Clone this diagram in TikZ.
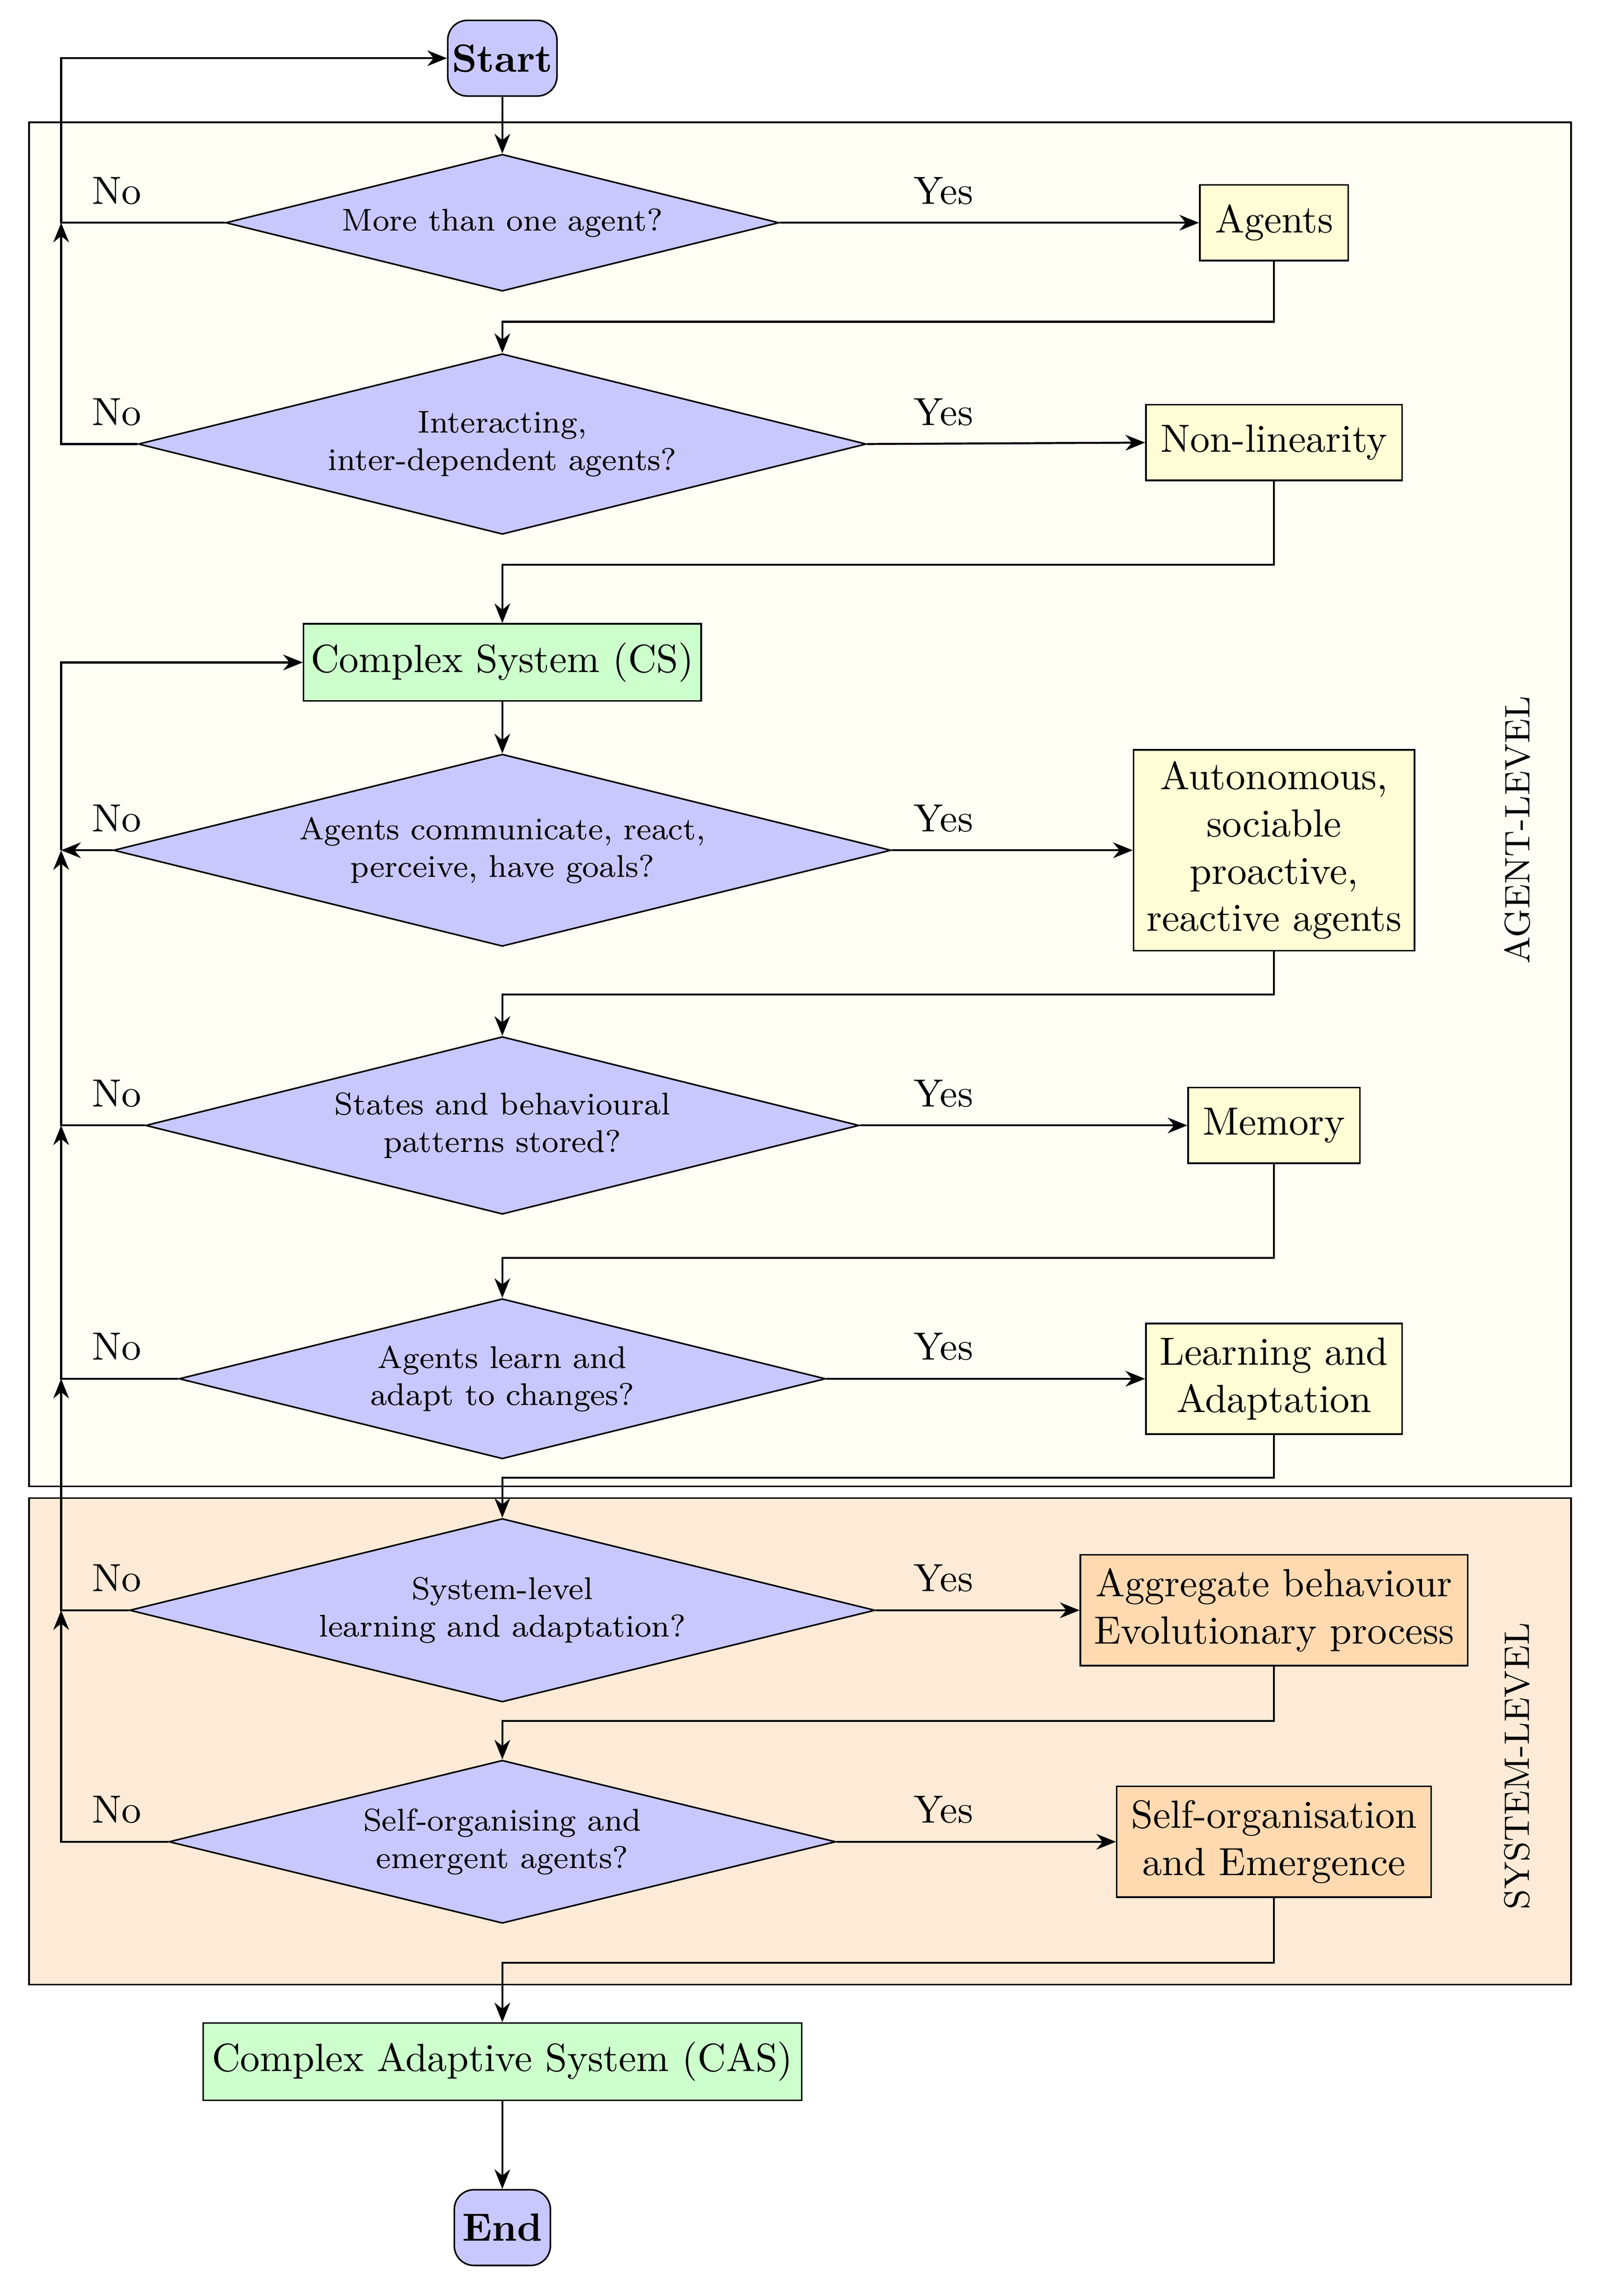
\documentclass[tikz,border=0pt]{standalone}
\usetikzlibrary{shapes.geometric,arrows.meta}
\definecolor{dia}{HTML}{C8C8FF}
\definecolor{yel}{HTML}{FFFDD5}
\definecolor{grn}{HTML}{CCFFCC}
\definecolor{org}{HTML}{FFD9B0}
\definecolor{agbg}{HTML}{FFFEF5}
\definecolor{sysbg}{HTML}{FDEBD7}
\begin{document}
\begin{tikzpicture}[x=0.013cm,y=-0.013cm,
  arr/.style={-{Stealth[length=5pt,width=4pt]},line width=0.5pt},
  dmd/.style 2 args={diamond,draw,fill=dia,inner sep=0pt,align=center,font=\footnotesize,aspect=4,minimum width={2*#1*0.013cm},minimum height={2*#2*0.013cm}},
  bx/.style 2 args={rectangle,draw,align=center,inner sep=0pt,minimum width={#1*0.013cm},minimum height={#2*0.013cm}},
  term/.style={rectangle,rounded corners=5pt,draw,fill=dia,font=\bfseries,inner sep=0pt,minimum width={#1*0.013cm},minimum height={52*0.013cm}},
  lab/.style={font=\normalsize}]
\useasboundingbox (0,0) rectangle (1100,1577);
\draw[fill=agbg] (20,84) rectangle (1079,1021);
\draw[fill=sysbg] (20,1029) rectangle (1079,1363);
\node[rotate=90,font=\small] (al) at (1042,570) {AGENT-LEVEL};
\node[rotate=90,font=\small] (sl) at (1042,1213) {SYSTEM-LEVEL};

\node[term=75] (start) at (345,40) {Start};
\node[dmd={190}{47}] (d1) at (345,153) {More than one agent?};
\node[bx={102}{52},fill=yel] (b1) at (875,153) {Agents};
\node[dmd={250}{62}] (d2) at (345,305) {Interacting,\\inter-dependent agents?};
\node[bx={176}{52},fill=yel] (b2) at (875,304) {Non-linearity};
\node[bx={273}{53},fill=grn] (cs) at (345,455) {Complex System (CS)};
\node[dmd={267}{66}] (d3) at (345,584) {Agents communicate, react,\\perceive, have goals?};
\node[bx={193}{138},fill=yel] (b3) at (875,584) {Autonomous,\\sociable\\proactive,\\reactive agents};
\node[dmd={245}{61}] (d4) at (345,773) {States and behavioural\\patterns stored?};
\node[bx={118}{52},fill=yel] (b4) at (875,773) {Memory};
\node[dmd={222}{55}] (d5) at (345,947) {Agents learn and\\adapt to changes?};
\node[bx={176}{76},fill=yel] (b5) at (875,947) {Learning and\\Adaptation};
\node[dmd={256}{63}] (d6) at (345,1106) {System-level\\learning and adaptation?};
\node[bx={266}{76},fill=org] (b6) at (875,1106) {Aggregate behaviour\\Evolutionary process};
\node[dmd={229}{56}] (d7) at (345,1265) {Self-organising and\\emergent agents?};
\node[bx={216}{76},fill=org] (b7) at (875,1265) {Self-organisation\\and Emergence};
\node[bx={411}{53},fill=grn] (cas) at (345,1416) {Complex Adaptive System (CAS)};
\node[term=66] (end) at (345,1530) {End};

\coordinate (l1) at (42,153);
\coordinate (l3) at (42,584);
\coordinate (l4) at (42,773);
\coordinate (l5) at (42,947);
\coordinate (l6) at (42,1106);

\draw[arr] (start) -- (d1);
\draw[arr] (cs) -- (d3);
\draw[arr] (cas) -- (end);
\foreach \d/\b/\y in {d1/b1/153,d2/b2/305,d3/b3/584,d4/b4/773,d5/b5/947,d6/b6/1106,d7/b7/1265}{
  \draw[arr] (\d.east) -- (\b.west);
  \node[lab] (y\d) at (648,\y-22) {Yes};
  \node[lab] (n\d) at (80,\y-22) {No};
}
\draw[arr] (d1.west) -| (42,40) -- (start.west);
\draw[arr] (d2.west) -| (l1);
\draw[arr] (d3.west) -- (l3);
\draw[arr] (l3) |- (cs.west);
\draw[arr] (d4.west) -| (l3);
\draw[arr] (d5.west) -| (l4);
\draw[arr] (d6.west) -| (l5);
\draw[arr] (d7.west) -| (l6);

\draw[arr] (b1.south) |- (345,221) -- (d2.north);
\draw[arr] (b2.south) |- (345,388) -- (cs.north);
\draw[arr] (b3.south) |- (345,683) -- (d4.north);
\draw[arr] (b4.south) |- (345,864) -- (d5.north);
\draw[arr] (b5.south) |- (345,1015) -- (d6.north);
\draw[arr] (b6.south) |- (345,1182) -- (d7.north);
\draw[arr] (b7.south) |- (345,1348) -- (cas.north);
\end{tikzpicture}
\end{document}
